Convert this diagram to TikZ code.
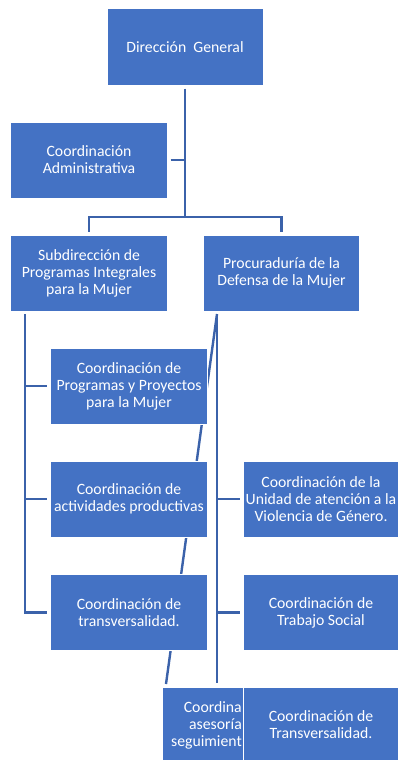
\documentclass[tikz,border=0pt]{standalone}
\usepackage{fontspec}
\setmainfont{Carlito}

\begin{document}
\begin{tikzpicture}[x=1bp,y=-1bp,
	box/.style={draw=white,line width=1bp,fill=boxblue,text=white,minimum width=156bp,minimum height=76bp,inner sep=0pt,align=center,font=\fontsize{15.8}{17}\selectfont},
	link/.style={draw=lineblue,line width=2.4bp}]
			\definecolor{boxblue}{HTML}{4472C4}
			\definecolor{lineblue}{HTML}{3B62AA}
			\useasboundingbox[fill=white] (0,0) rectangle (397,760);
			% Linie hinter den Kaesten
			\coordinate (procl) at (217,314);
			\coordinate (procend) at (217,683);
			\coordinate (asesend) at (166,684);
			\coordinate (subl) at (25,314);
			\coordinate (bus) at (185,217);
			\draw[link] (procl) -- (asesend);
			% Direktion
			\node[box] (dir) at (185,47) {Dirección\ \ General};
			\node[box] (admin) at (89,160) {Coordinación\\Administrativa};
			% zweite Ebene
			\node[box] (sub) at (89,273) {Subdirección de\\Programas Integrales\\para la Mujer};
			\node[box] (proc) at (281.5,273) {Procuraduría de la\\Defensa de la Mujer};
			% Subdireccion
			\node[box] (prog) at (129,386) {Coordinación de\\Programas y Proyectos\\para la Mujer};
			\node[box] (act) at (129,499) {Coordinación de\\actividades productivas};
			\node[box] (trans) at (129,612.5) {Coordinación de\\transversalidad.};
			% Procuraduria
			\node[box] (ases) at (240,725) {};
			\node[text=white,anchor=east,align=right,inner sep=0pt,font=\fontsize{15.8}{17}\selectfont] (asestext) at (242,725.5) {Coordina\\asesoría\\seguimient};
			\node[box] (unid) at (321,499) {Coordinación de la\\Unidad de atención a la\\Violencia de Género.};
			\node[box] (trab) at (321,612.5) {Coordinación de\\Trabajo Social};
			\node[box] (transv) at (321,725) {Coordinación de\\Transversalidad.};

			% Verbindungen
			\draw[link] ([yshift=-3bp]dir.south) -- (bus);
			\draw[link] ([xshift=3bp]admin.east) -- (bus |- admin.east);
			\draw[link] ([yshift=3bp]sub.north) |- (bus) -| ([yshift=3bp]proc.north);
			\draw[link] (subl) |- ([xshift=-3bp]trans.west);
			\draw[link] (subl |- prog.west) -- ([xshift=-3bp]prog.west);
			\draw[link] (subl |- act.west) -- ([xshift=-3bp]act.west);
			\draw[link] (procl) -- (procend);
			\draw[link] (procl |- unid.west) -- ([xshift=-3bp]unid.west);
			\draw[link] (procl |- trab.west) -- ([xshift=-3bp]trab.west);
\end{tikzpicture}
\end{document}
